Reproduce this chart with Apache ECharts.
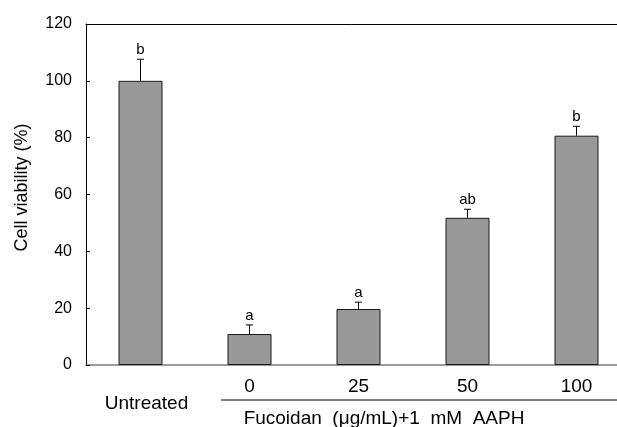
<!DOCTYPE html>
<html>
<head>
<meta charset="utf-8">
<script src="https://cdn.jsdelivr.net/npm/echarts@6/dist/echarts.min.js"></script>
<style>
    html, body { margin: 0; padding: 0; background: #fff; }
    #chart { width: 617px; height: 427px; }
</style>
</head>
<body>
<div id="chart"></div>
<script>
// 数据
const categories = ['Untreated', '0', '25', '50', '100']
const viability = [100, 10.9, 19.7, 51.8, 80.7]
const errorUpper = [107.6, 14.1, 22.1, 54.8, 84.0]
const letters = ['b', 'a', 'a', 'ab', 'b']
const yTicks = { min: 0, max: 120, interval: 20 }

const font = '"Liberation Sans", Arial, sans-serif'
const chart = echarts.init(document.getElementById('chart'))

// 误差线 + 显著性字母
const renderError = (params, api) => {
    const i = api.value(0)
    const top = api.coord([i, api.value(2)])
    const base = api.coord([i, api.value(1)])
    return {
        type: 'group',
        children: [
            { type: 'line', shape: { x1: top[0], y1: base[1], x2: top[0], y2: top[1] }, style: { stroke: '#000', lineWidth: 1 } },
            { type: 'line', shape: { x1: top[0] - 3.5, y1: top[1], x2: top[0] + 3.5, y2: top[1] }, style: { stroke: '#000', lineWidth: 1 } },
            {
                type: 'text',
                x: top[0], y: top[1] - 2,
                style: { text: letters[i], fill: '#000', font: '15px ' + font, align: 'center', verticalAlign: 'bottom' }
            }
        ]
    }
}

const option = {
    animation: false,
    grid: { left: 86, top: 24, bottom: 62, width: 545, outerBoundsMode: 'none', containLabel: false },
    xAxis: [{
        type: 'category',
        data: categories,
        axisLine: { show: true, lineStyle: { color: '#7a7a7a', width: 1.5 } },
        axisTick: { show: false },
        axisLabel: {
            interval: 0,
            hideOverlap: false,
            color: '#000',
            fontFamily: font,
            fontSize: 19,
            margin: 13,
            lineHeight: 17,
            formatter: (v, idx) => idx === 0 ? '\n{u|' + v + '}' : v,
            rich: {
                u: { color: '#000', fontFamily: font, fontSize: 19, lineHeight: 17, padding: [0, 0, 0, 12] }
            }
        }
    }, {
        type: 'category',
        position: 'top',
        data: categories,
        axisLine: { show: true, lineStyle: { color: '#000', width: 1 } },
        axisTick: { show: false },
        axisLabel: { show: false }
    }],
    yAxis: {
        type: 'value',
        min: yTicks.min,
        max: yTicks.max,
        interval: yTicks.interval,
        name: 'Cell viability (%)',
        nameLocation: 'middle',
        nameGap: 55,
        nameTextStyle: { color: '#000', fontFamily: font, fontSize: 18, padding: [0, 0, 0, 14] },
        axisLine: { show: true, lineStyle: { color: '#000', width: 1 } },
        axisTick: { show: true, inside: true, length: 4, lineStyle: { color: '#000' } },
        axisLabel: { color: '#000', fontFamily: font, fontSize: 16, margin: 14 },
        splitLine: { show: false }
    },
    series: [{
        type: 'bar',
        data: viability,
        barWidth: 44,
        itemStyle: { color: '#999999', borderColor: '#1a1a1a', borderWidth: 1 },
        z: 2
    }, {
        type: 'custom',
        renderItem: renderError,
        data: viability.map((v, i) => [i, v, errorUpper[i]]),
        z: 3
    }],
    graphic: [{
        type: 'line',
        shape: { x1: 221, y1: 400, x2: 617, y2: 400 },
        style: { stroke: '#000', lineWidth: 1 }
    }, {
        type: 'text',
        x: 384, y: 419,
        style: {
            text: 'Fucoidan  (μg/mL)+1  mM  AAPH',
            fill: '#000',
            font: '19px ' + font,
            align: 'center',
            verticalAlign: 'middle'
        }
    }]
}

chart.setOption(option)
</script>
</body>
</html>
